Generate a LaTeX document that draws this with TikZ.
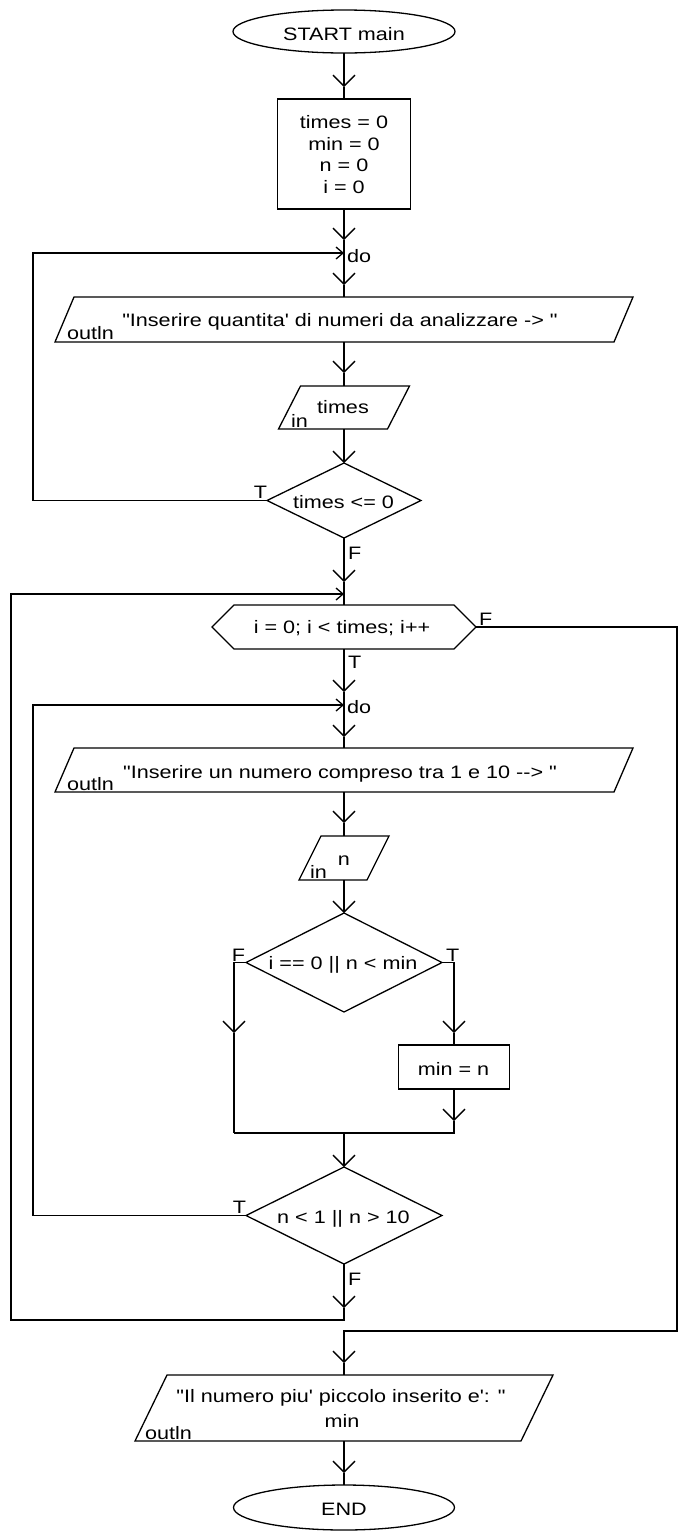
\documentclass[tikz,border=0pt]{standalone}
\usepackage{fontspec}
\setmainfont{Liberation Sans}[FakeStretch=1.2,Ligatures=TeXOff]
\usetikzlibrary{arrows.meta,shapes.geometric,calc}
\tikzset{
  ln/.style={line width=1.3pt},
  vtip/.style={ln,-{Straight Barb[length=11pt,width=22pt]}},
  htip/.style={ln,-{Straight Barb[length=7pt,width=12pt]}},
  frame/.style={inner sep=0pt,outer sep=0pt},
  term/.style={frame,draw,ln,ellipse},
  proc/.style={frame,draw,ln,rectangle},
  bbox/.style={frame,rectangle},
  dec/.style={frame,draw,ln,diamond},
  txt/.style={inner sep=0pt,outer sep=0pt},
}
\begin{document}
\begin{tikzpicture}[x=1pt,y=-1pt,font=\fontsize{18pt}{21.7pt}\selectfont]
\fill[white] (0,0) rectangle (688,1540);
\useasboundingbox (0,0) rectangle (688,1540);

% ---------- shapes ----------
\node[term,minimum width=222pt,minimum height=43pt] (start) at (344,31.5) {};
\node[txt,anchor=base] (startT) at (344,40) {START main};

\node[proc,minimum width=133pt,minimum height=110pt] (init) at (344,154) {};
\node[txt,anchor=base] (i1) at (344,128.3) {times = 0};
\node[txt,anchor=base] (i2) at (344,150) {min = 0};
\node[txt,anchor=base] (i3) at (344,171.7) {n = 0};
\node[txt,anchor=base] (i4) at (344,193.3) {i = 0};

\node[bbox,minimum width=578pt,minimum height=45pt] (p1) at (344,319.5) {};
\draw[ln] (p1.south west) -- ($(p1.north west)+(19,0)$) -- (p1.north east) -- ($(p1.south east)+(-19,0)$) -- cycle;
\node[txt,anchor=base] (p1T) at (340,326) {"Inserire quantita' di numeri da analizzare -> "};
\node[txt,anchor=base west] (p1L) at (67,339) {outln};

\node[bbox,minimum width=131pt,minimum height=43pt] (in1) at (344,407.5) {};
\draw[ln] (in1.south west) -- ($(in1.north west)+(22,0)$) -- (in1.north east) -- ($(in1.south east)+(-22,0)$) -- cycle;
\node[txt,anchor=base] (in1T) at (343,413) {times};
\node[txt,anchor=base west] (in1L) at (291,427) {in};

\node[dec,minimum width=154pt,minimum height=75pt] (d1) at (344,500.5) {};
\node[txt,anchor=base] (d1T) at (343.5,508) {times <= 0};

\node[bbox,minimum width=264pt,minimum height=44pt] (hex) at (344,627) {};
\draw[ln] (hex.west) -- ($(hex.north west)+(22,0)$) -- ($(hex.north east)+(-22,0)$) -- (hex.east) -- ($(hex.south east)+(-22,0)$) -- ($(hex.south west)+(22,0)$) -- cycle;
\node[txt,anchor=base] (hexT) at (342,633) {i = 0; i < times; i++};

\node[bbox,minimum width=578pt,minimum height=44pt] (p2) at (344,770) {};
\draw[ln] (p2.south west) -- ($(p2.north west)+(19,0)$) -- (p2.north east) -- ($(p2.south east)+(-19,0)$) -- cycle;
\node[txt,anchor=base] (p2T) at (340,778) {"Inserire un numero compreso tra 1 e 10 --> "};
\node[txt,anchor=base west] (p2L) at (67,790) {outln};

\node[bbox,minimum width=90pt,minimum height=44pt] (in2) at (344,858) {};
\draw[ln] (in2.south west) -- ($(in2.north west)+(22,0)$) -- (in2.north east) -- ($(in2.south east)+(-22,0)$) -- cycle;
\node[txt,anchor=base] (in2T) at (344,865) {n};
\node[txt,anchor=base west] (in2L) at (310,878) {in};

\node[dec,minimum width=196pt,minimum height=99pt] (d2) at (344,962.5) {};
\node[txt,anchor=base] (d2T) at (343,969) {i == 0 || n < min};

\node[proc,minimum width=111pt,minimum height=44pt] (minb) at (454,1067) {};
\node[txt,anchor=base] (minbT) at (453.5,1075) {min = n};

\node[dec,minimum width=196pt,minimum height=97pt] (d3) at (344,1215.5) {};
\node[txt,anchor=base] (d3T) at (343.5,1223) {n < 1 || n > 10};

\node[bbox,minimum width=418pt,minimum height=66pt] (p3) at (344,1408) {};
\draw[ln] (p3.south west) -- ($(p3.north west)+(32,0)$) -- (p3.north east) -- ($(p3.south east)+(-32,0)$) -- cycle;
\node[txt,anchor=base] (p3T1) at (341,1402) {"Il numero piu' piccolo inserito e': "};
\node[txt,anchor=base] (p3T2) at (342,1427) {min};
\node[txt,anchor=base west] (p3L) at (145,1439) {outln};

\node[term,minimum width=221pt,minimum height=45pt] (end) at (344,1507.5) {};
\node[txt,anchor=base] (endT) at (344,1515) {END};

% ---------- coordinates ----------
\coordinate (t1) at (344,87);
\coordinate (t2) at (344,240);
\coordinate (j1) at (344,253);
\coordinate (t3) at (344,285);
\coordinate (t4) at (344,373);
\coordinate (l1) at (33,253);
\coordinate (t6) at (344,582);
\coordinate (j2) at (344,594);
\coordinate (r1) at (677,1331);
\coordinate (tq) at (344,1363);
\coordinate (t7) at (344,692);
\coordinate (j3) at (344,705);
\coordinate (t8) at (344,737);
\coordinate (t9) at (344,823);
\coordinate (t11) at (234,1033);
\coordinate (m1) at (234,1133);
\coordinate (t12) at (454,1033);
\coordinate (t13) at (454,1121);
\coordinate (m2) at (454,1133);
\coordinate (m3) at (344,1133);
\coordinate (l3) at (33,705);
\coordinate (t15) at (344,1308);
\coordinate (b1) at (344,1320);
\coordinate (l2) at (11,594);
\coordinate (t17) at (344,1473);

% ---------- connectors ----------
\draw[vtip] (start.south) -- (t1);
\draw[ln] (t1) -- (init.north);
\draw[vtip] (init.south) -- (t2);
\draw[vtip] (t2) -- (t3);
\draw[ln] (t3) -- (p1.north);
\draw[vtip] (p1.south) -- (t4);
\draw[ln] (t4) -- (in1.north);
\draw[vtip] (in1.south) -- (d1.north);
\draw[htip] (d1.west) -| (l1) -- (j1);
\draw[vtip] (d1.south) -- (t6);
\draw[ln] (t6) -- (hex.north);
\draw[vtip] (hex.east) -| (r1) -| (tq);
\draw[ln] (tq) -- (p3.north);
\draw[vtip] (hex.south) -- (t7);
\draw[vtip] (t7) -- (t8);
\draw[ln] (t8) -- (p2.north);
\draw[vtip] (p2.south) -- (t9);
\draw[ln] (t9) -- (in2.north);
\draw[vtip] (in2.south) -- (d2.north);
\draw[vtip] (d2.west) -| (t11);
\draw[ln] (t11) -- (m1);
\draw[vtip] (d2.east) -| (t12);
\draw[ln] (t12) -- (minb.north);
\draw[vtip] (minb.south) -- (t13);
\draw[ln] (t13) -- (m2) -- (m1);
\draw[vtip] (m3) -- (d3.north);
\draw[htip] (d3.west) -| (l3) -- (j3);
\draw[vtip] (d3.south) -- (t15);
\draw[htip] (t15) -- (b1) -| (l2) -- (j2);
\draw[vtip] (p3.south) -- (t17);
\draw[ln] (t17) -- (end.north);

% ---------- labels ----------
\node[txt,anchor=base west] (do1) at (347,262) {do};
\node[txt,anchor=base west] (do2) at (347,713) {do};
\node[txt,anchor=base east] (lT1) at (267,498) {T};
\node[txt,anchor=base west] (lF1) at (348,559) {F};
\node[txt,anchor=base west] (lF2) at (479,625) {F};
\node[txt,anchor=base west] (lT2) at (348,668) {T};
\node[txt,anchor=base east] (lF3) at (245,961) {F};
\node[txt,anchor=base west] (lT3) at (446,961) {T};
\node[txt,anchor=base east] (lT4) at (246,1213) {T};
\node[txt,anchor=base west] (lF4) at (348,1285) {F};
\end{tikzpicture}
\end{document}
